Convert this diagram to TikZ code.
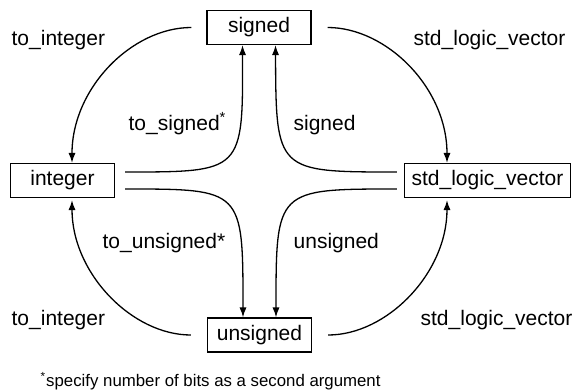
\documentclass[tikz,border=0pt]{standalone}
\usepackage{fontspec}
\setmainfont{Liberation Sans}
\usetikzlibrary{arrows.meta,positioning}

\begin{document}
\begin{tikzpicture}[
    x=0.5pt, y=-0.5pt,
    line width=0.65pt,
    typebox/.style={draw, minimum width=52pt, minimum height=17pt, inner xsep=3.5pt, font=\fontsize{10.5}{12}\selectfont},
    lbl/.style={inner sep=0pt, anchor=base west, font=\fontsize{10.5}{12}\selectfont},
    conv/.style={-{Latex[length=5pt,width=3.6pt]}}
]
    \useasboundingbox (0,0) rectangle (573,391);

    % === TYPES ===
    \node[typebox] (signed) at (259,27.5) {signed};
    \node[typebox] (integer) at (62.5,180.5) {integer};
    \node[typebox] (slv) at (487.5,180.5) {std\_logic\_vector};
    \node[typebox] (unsigned) at (259.5,335) {unsigned};

    % === OUTER CONVERSIONS ===
    \draw[conv, shorten <=7.5pt] (signed.west) to[out=180, in=90] ([xshift=4.75pt]integer.north);
    \draw[conv, shorten <=8pt] (signed.east) to[out=0, in=90] ([xshift=-20.25pt]slv.north);
    \draw[conv, shorten <=8pt, shorten >=1pt] (unsigned.west) to[out=180, in=-90] ([xshift=4.75pt]integer.south);
    \draw[conv, shorten <=8pt, shorten >=1pt] (unsigned.east) to[out=0, in=-90] ([xshift=-20.25pt]slv.south);

    % === INNER CONVERSIONS ===
    \draw[conv, shorten <=5pt] ([yshift=4.25pt]integer.east) .. controls (243,172) and (243,172) .. ([xshift=-8.25pt]signed.south);
    \draw[conv, shorten <=3.5pt] ([yshift=4.25pt]slv.west) .. controls (276,172) and (276,172) .. ([xshift=8.25pt]signed.south);
    \draw[conv, shorten <=5pt] ([yshift=-4.25pt]integer.east) .. controls (243,189) and (243,189) .. ([xshift=-8.25pt]unsigned.north);
    \draw[conv, shorten <=3.5pt] ([yshift=-4.25pt]slv.west) .. controls (276,189) and (276,189) .. ([xshift=8.25pt]unsigned.north);

    % Labels
    \node[lbl] (toint1) at (11,46) {to\_integer};
    \node[lbl] (toslv1) at (413,46) {std\_logic\_vector};
    \node[lbl] (tosig) at (128,130) {to\_signed\textsuperscript{*}};
    \node[lbl] (sig) at (293,130) {signed};
    \node[lbl] (tounsig) at (102,248) {to\_unsigned*};
    \node[lbl] (unsig) at (293,248) {unsigned};
    \node[lbl] (toint2) at (11,325) {to\_integer};
    \node[lbl] (toslv2) at (420,325) {std\_logic\_vector};

    % Footnote
    \node[lbl, font=\fontsize{8.4}{10}\selectfont] (note) at (40,386) {\textsuperscript{*}specify number of bits as a second argument};
\end{tikzpicture}
\end{document}
